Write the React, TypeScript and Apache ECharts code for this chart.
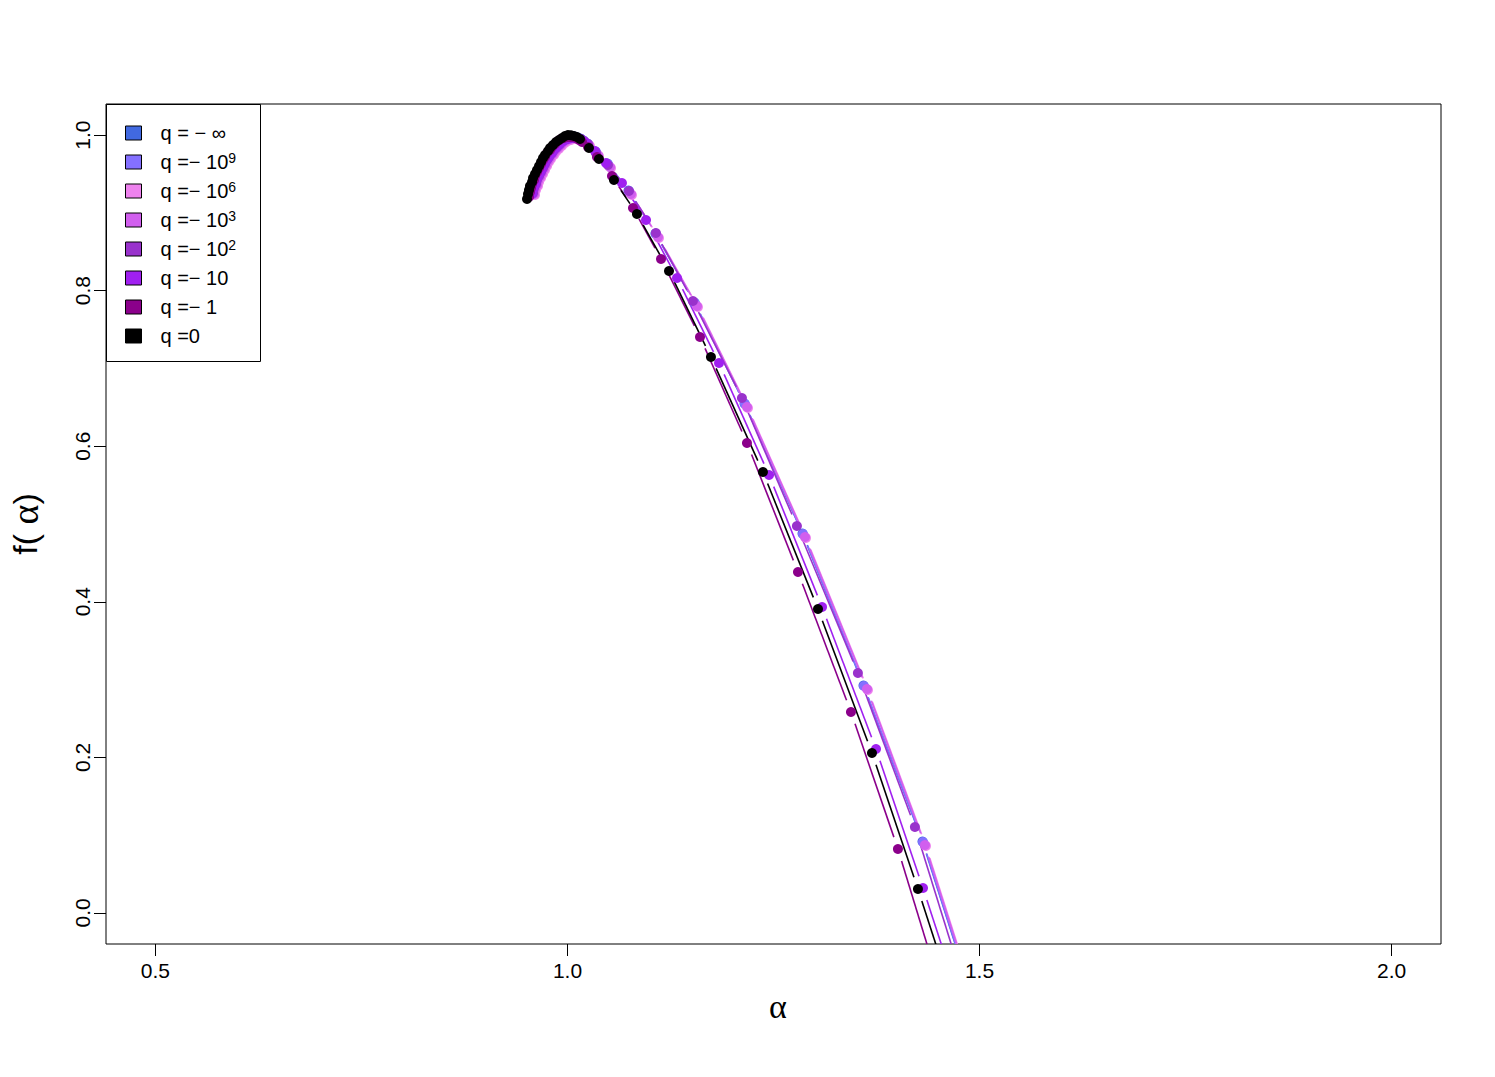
import React, { useEffect, useRef } from "react";
import * as echarts from "echarts";

// ---- series meta ----
const seriesNames = ["q=-inf", "q=-1e9", "q=-1e6", "q=-1e3", "q=-1e2", "q=-10", "q=-1", "q=0"];
const legendLabels = [
  "q = − ∞",
  "q =− 10{sup|9}",
  "q =− 10{sup|6}",
  "q =− 10{sup|3}",
  "q =− 10{sup|2}",
  "q =− 10",
  "q =− 1",
  "q =0",
];
const seriesColors = ["#4169E1", "#8470FF", "#EE82EE", "#D15FEE", "#9932CC", "#A020F0", "#8B008B", "#000000"];

// ---- tick values ----
const xTicks = [0.5, 1.0, 1.5, 2.0];
const yTicks = [0.0, 0.2, 0.4, 0.6, 0.8, 1.0];

// ---- data: alpha (x) and f(alpha) (y) per series ----
const alphaQinf = [0.9576,0.9588,0.9612,0.9624,0.9649,0.9673,0.9697,0.9721,0.9746,0.9770,0.9806,0.9831,0.9867,0.9903,0.9940,0.9976,1.0013,1.0049,1.0085,1.0122,1.0158,1.0194,1.0243,1.0340,1.0485,1.0740,1.1067,1.1540,1.2148,1.2852,1.3592,1.4308,1.4927];
const fQinf = [0.9262,0.9326,0.9378,0.9429,0.9481,0.9532,0.9583,0.9635,0.9686,0.9725,0.9776,0.9815,0.9853,0.9892,0.9930,0.9956,0.9969,0.9982,0.9982,0.9969,0.9956,0.9930,0.9892,0.9789,0.9635,0.9288,0.8735,0.7848,0.6549,0.4877,0.2923,0.0918,-0.1140];

const alphaQ1e9 = [0.9582,0.9594,0.9618,0.9630,0.9655,0.9679,0.9703,0.9727,0.9752,0.9776,0.9812,0.9837,0.9873,0.9909,0.9946,0.9982,1.0019,1.0055,1.0091,1.0128,1.0164,1.0200,1.0249,1.0346,1.0491,1.0746,1.1073,1.1546,1.2154,1.2858,1.3598,1.4314,1.4933];
const fQ1e9 = [0.9256,0.9320,0.9372,0.9423,0.9475,0.9526,0.9577,0.9629,0.9680,0.9719,0.9770,0.9809,0.9847,0.9886,0.9924,0.9950,0.9963,0.9976,0.9976,0.9963,0.9950,0.9924,0.9886,0.9783,0.9629,0.9282,0.8729,0.7842,0.6543,0.4871,0.2917,0.0912,-0.1146];

const alphaQ1e6 = [0.9606,0.9618,0.9642,0.9655,0.9679,0.9703,0.9727,0.9752,0.9776,0.9800,0.9837,0.9861,0.9897,0.9933,0.9970,1.0006,1.0043,1.0079,1.0115,1.0152,1.0188,1.0224,1.0273,1.0382,1.0528,1.0782,1.1110,1.1583,1.2190,1.2894,1.3646,1.4350,1.4969];
const fQ1e6 = [0.9230,0.9294,0.9346,0.9397,0.9449,0.9500,0.9551,0.9603,0.9654,0.9693,0.9744,0.9783,0.9821,0.9860,0.9898,0.9924,0.9937,0.9950,0.9950,0.9937,0.9924,0.9898,0.9860,0.9731,0.9577,0.9230,0.8677,0.7790,0.6491,0.4820,0.2866,0.0860,-0.1197];

const alphaQ1e3 = [0.9594,0.9606,0.9630,0.9642,0.9667,0.9691,0.9715,0.9739,0.9764,0.9788,0.9824,0.9849,0.9885,0.9921,0.9958,0.9994,1.0031,1.0067,1.0103,1.0140,1.0176,1.0212,1.0261,1.0370,1.0516,1.0770,1.1098,1.1571,1.2178,1.2882,1.3634,1.4338,1.4957];
const fQ1e3 = [0.9243,0.9307,0.9359,0.9410,0.9462,0.9513,0.9564,0.9616,0.9667,0.9706,0.9757,0.9796,0.9834,0.9873,0.9911,0.9937,0.9950,0.9963,0.9963,0.9950,0.9937,0.9911,0.9873,0.9744,0.9590,0.9243,0.8690,0.7803,0.6504,0.4833,0.2879,0.0873,-0.1184];

const alphaQ1e2 = [0.9582,0.9594,0.9618,0.9630,0.9655,0.9679,0.9703,0.9727,0.9752,0.9776,0.9812,0.9837,0.9873,0.9909,0.9946,0.9982,1.0018,1.0055,1.0091,1.0128,1.0164,1.0200,1.0249,1.0346,1.0491,1.0746,1.1073,1.1522,1.2117,1.2784,1.3524,1.4216,1.4810];
const fQ1e2 = [0.9256,0.9320,0.9372,0.9423,0.9474,0.9526,0.9577,0.9629,0.9680,0.9719,0.9770,0.9809,0.9847,0.9886,0.9924,0.9950,0.9963,0.9976,0.9976,0.9963,0.9950,0.9924,0.9886,0.9770,0.9616,0.9282,0.8741,0.7867,0.6620,0.4974,0.3084,0.1104,-0.0927];

const alphaQ10 = [0.9570,0.9582,0.9606,0.9618,0.9642,0.9667,0.9691,0.9715,0.9739,0.9764,0.9800,0.9824,0.9861,0.9897,0.9934,0.9970,1.0006,1.0043,1.0079,1.0115,1.0152,1.0188,1.0224,1.0334,1.0467,1.0661,1.0953,1.1329,1.1839,1.2446,1.3089,1.3744,1.4314,1.4836];
const fQ10 = [0.9243,0.9307,0.9359,0.9410,0.9462,0.9513,0.9564,0.9616,0.9667,0.9706,0.9757,0.9796,0.9834,0.9873,0.9911,0.9937,0.9950,0.9963,0.9963,0.9963,0.9950,0.9924,0.9899,0.9796,0.9641,0.9384,0.8909,0.8163,0.7070,0.5630,0.3933,0.2107,0.0320,-0.1377];

const alphaQ1 = [0.9533,0.9545,0.9558,0.9570,0.9594,0.9606,0.9630,0.9655,0.9679,0.9703,0.9727,0.9752,0.9788,0.9812,0.9849,0.9885,0.9921,0.9958,0.9994,1.0031,1.0067,1.0103,1.0140,1.0176,1.0249,1.0358,1.0540,1.0795,1.1135,1.1608,1.2178,1.2797,1.3440,1.4010,1.4532];
const fQ1 = [0.9204,0.9269,0.9320,0.9372,0.9423,0.9474,0.9526,0.9577,0.9629,0.9680,0.9719,0.9770,0.9809,0.9847,0.9886,0.9924,0.9950,0.9963,0.9976,0.9976,0.9976,0.9963,0.9937,0.9911,0.9847,0.9719,0.9474,0.9063,0.8407,0.7404,0.6042,0.4383,0.2583,0.0822,-0.0991];

const alphaQ0 = [0.9509,0.9521,0.9533,0.9545,0.9570,0.9582,0.9606,0.9630,0.9655,0.9679,0.9703,0.9727,0.9764,0.9788,0.9824,0.9861,0.9897,0.9934,0.9970,1.0006,1.0043,1.0079,1.0115,1.0152,1.0261,1.0382,1.0564,1.0843,1.1232,1.1741,1.2372,1.3040,1.3695,1.4253,1.4787];
const fQ0 = [0.9179,0.9243,0.9294,0.9346,0.9397,0.9449,0.9500,0.9551,0.9603,0.9654,0.9706,0.9744,0.9796,0.9834,0.9873,0.9911,0.9937,0.9963,0.9989,1.0000,0.9998,0.9989,0.9976,0.9950,0.9834,0.9693,0.9423,0.8986,0.8253,0.7147,0.5669,0.3907,0.2056,0.0307,-0.1441];

const seriesAlpha = [alphaQinf, alphaQ1e9, alphaQ1e6, alphaQ1e3, alphaQ1e2, alphaQ10, alphaQ1, alphaQ0];
const seriesF = [fQinf, fQ1e9, fQ1e6, fQ1e3, fQ1e2, fQ10, fQ1, fQ0];

const FONT = "'Liberation Sans', Arial, Helvetica, sans-serif";
const SERIF = "'Liberation Serif', 'DejaVu Serif', serif";
const GAP = 12.5; // gap around points (R type = "b")

export default function App() {
  const ref = useRef<HTMLDivElement>(null);

  useEffect(() => {
    if (!ref.current) return;
    const chart = echarts.init(ref.current, null, { renderer: "svg" });

    const series: any[] = [];
    seriesNames.forEach((name, s) => {
      const xs = seriesAlpha[s];
      const ys = seriesF[s];
      const color = seriesColors[s];
      const segs: number[][] = [];
      for (let i = 0; i < xs.length - 1; i++) segs.push([xs[i], ys[i], xs[i + 1], ys[i + 1]]);
      series.push({
        type: "custom",
        name,
        data: segs,
        encode: { x: [0, 2], y: [1, 3] },
        clip: true,
        silent: true,
        renderItem: (params: any, api: any) => {
          const p1 = api.coord([api.value(0), api.value(1)]);
          const p2 = api.coord([api.value(2), api.value(3)]);
          const dx = p2[0] - p1[0];
          const dy = p2[1] - p1[1];
          const len = Math.sqrt(dx * dx + dy * dy);
          if (len <= 2 * GAP) return null;
          const ux = dx / len;
          const uy = dy / len;
          return {
            type: "line",
            shape: {
              x1: p1[0] + ux * GAP,
              y1: p1[1] + uy * GAP,
              x2: p2[0] - ux * GAP,
              y2: p2[1] - uy * GAP,
            },
            style: { stroke: color, lineWidth: 1.6 },
          };
        },
      });
      series.push({
        type: "scatter",
        name,
        data: xs.map((x, i) => [x, ys[i]]),
        symbol: "circle",
        symbolSize: 10,
        clip: true,
        itemStyle: { color, opacity: 1 },
        emphasis: { disabled: true },
      });
    });

    const option: any = {
      animation: false,
      backgroundColor: "#ffffff",
      grid: {
        left: 106,
        right: 54,
        top: 104,
        bottom: 133,
        outerBoundsMode: "none",
        containLabel: false,
        show: true,
        borderColor: "#000",
        borderWidth: 1,
        backgroundColor: "transparent",
      },
      xAxis: {
        type: "value",
        min: 0.44,
        max: 2.06,
        axisLine: { show: false, onZero: false },
        splitLine: { show: false },
        axisTick: { show: true, inside: false, length: 12, customValues: xTicks, lineStyle: { color: "#000", width: 1 } },
        axisLabel: {
          customValues: xTicks,
          formatter: (v: number) => v.toFixed(1),
          fontFamily: FONT,
          fontSize: 21,
          color: "#000",
          margin: 16,
        },
        name: "α",
        nameLocation: "middle",
        nameGap: 45,
        nameTextStyle: { fontFamily: SERIF, fontSize: 34, color: "#000", padding: [0, 0, 0, 9] },
      },
      yAxis: {
        type: "value",
        min: -0.04,
        max: 1.04,
        axisLine: { show: false, onZero: false },
        splitLine: { show: false },
        axisTick: { show: true, inside: false, length: 12, customValues: yTicks, lineStyle: { color: "#000", width: 1 } },
        axisLabel: {
          customValues: yTicks,
          formatter: (v: number) => v.toFixed(1),
          fontFamily: FONT,
          fontSize: 21,
          color: "#000",
          rotate: 90,
          margin: 13,
        },
        name: "{a|f( }{b|α}{a|)}",
        nameLocation: "middle",
        nameGap: 62,
        nameTextStyle: {
          color: "#000",
          rich: {
            a: { fontFamily: FONT, fontSize: 34, color: "#000" },
            b: { fontFamily: SERIF, fontSize: 38, color: "#000" },
          },
        },
      },
      legend: {
        show: true,
        orient: "vertical",
        left: 125,
        top: 122,
        padding: 0,
        itemWidth: 16,
        itemHeight: 14,
        itemGap: 7,
        selectedMode: false,
        data: seriesNames.map((n, i) => ({
          name: n,
          icon: "rect",
          itemStyle: { color: seriesColors[i], borderColor: "#000", borderWidth: 1 },
        })),
        formatter: (name: string) => legendLabels[seriesNames.indexOf(name)],
        textStyle: {
          fontFamily: FONT,
          fontSize: 20,
          color: "#000",
          lineHeight: 22,
          padding: [0, 0, 0, 14],
          rich: {
            sup: { fontFamily: FONT, fontSize: 14, lineHeight: 13, verticalAlign: "top", color: "#000" },
          },
        },
      },
      graphic: [
        {
          type: "rect",
          shape: { x: 106.5, y: 104.5, width: 154, height: 257 },
          style: { fill: "none", stroke: "#000", lineWidth: 1 },
          silent: true,
          z: 10,
        },
      ],
      series,
    };

    chart.setOption(option);
    return () => {
      chart.dispose();
    };
  }, []);

  return (
    <div
      ref={ref}
      style={{ position: "absolute", left: 0, top: 0, width: 1495, height: 1077, background: "#fff" }}
    />
  );
}
